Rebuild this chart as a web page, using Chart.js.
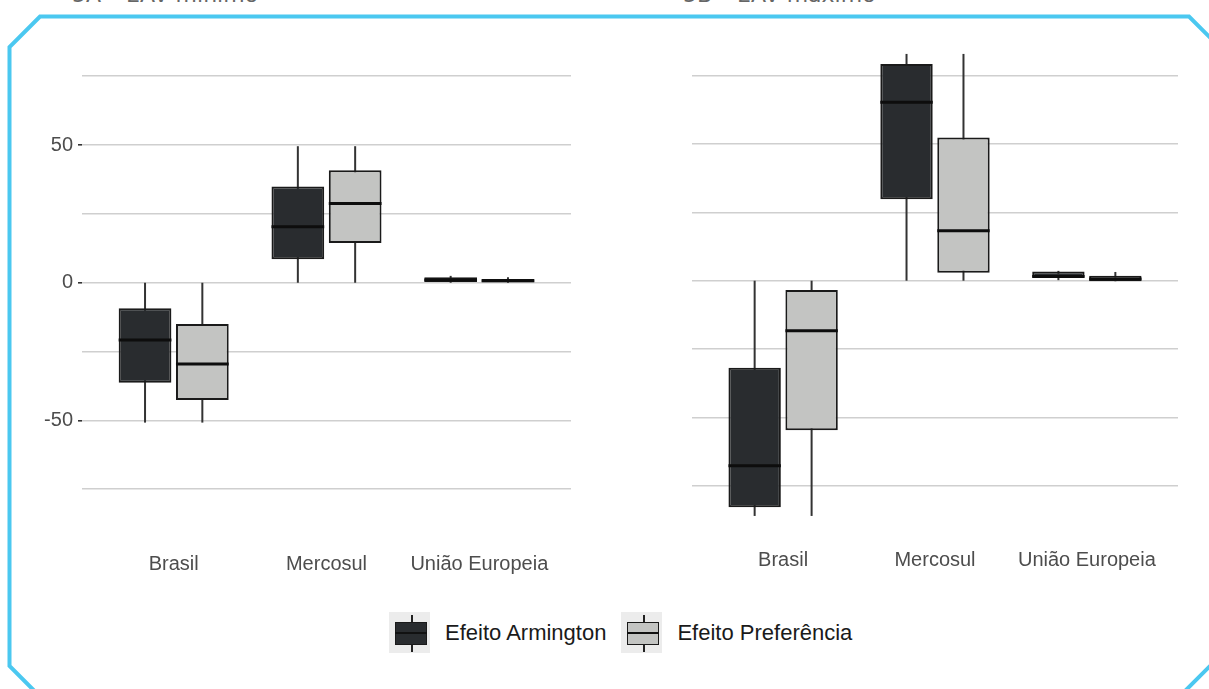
<!DOCTYPE html>
<html>
<head>
<meta charset="utf-8">
<script src="https://cdn.jsdelivr.net/npm/chart.js@4.4.0/dist/chart.umd.min.js"></script>
<style>
  html, body { margin: 0; padding: 0; background: #fff; }
  body { width: 1209px; height: 689px; position: relative; overflow: hidden; font-family: "Liberation Sans", Arial, sans-serif; }
  #leftWrap { position: absolute; left: 0; top: 0; width: 600px; height: 600px; }
  #rightWrap { position: absolute; left: 600px; top: 0; width: 609px; height: 600px; }
  .caption { position: absolute; top: -16px; font-size: 22px; line-height: 22px; font-family: "DejaVu Sans", sans-serif; color: #666; white-space: nowrap; }
  #frame { position: absolute; left: 0; top: 0; pointer-events: none; }
  #legend { position: absolute; left: 389px; top: 612px; height: 41px; display: flex; align-items: center; }
  .key { position: relative; width: 41px; height: 41px; background: #ececec; flex: none; }
  .key .wh { position: absolute; left: 22px; top: 3px; width: 1.8px; height: 37px; background: #222; }
  .key .bx { position: absolute; left: 6px; top: 10px; width: 32px; height: 23px; box-sizing: border-box; border: 1.8px solid #1a1a1a; }
  .key .md { position: absolute; left: 6px; top: 20px; width: 32px; height: 2.4px; background: #111; }
  .lbl { font-size: 22px; color: #1a1a1a; margin: 0 15px 0 15px; white-space: nowrap; }
</style>
</head>
<body>
<div class="caption" style="left:72px">5A – EAV mínimo</div>
<div class="caption" style="left:683px">5B – EAV máximo</div>

<div id="leftWrap"><canvas id="chartMin"></canvas></div>
<div id="rightWrap"><canvas id="chartMax"></canvas></div>

<div id="legend">
  <div class="key"><div class="wh"></div><div class="bx" style="background:#292c2f"></div><div class="md"></div></div>
  <span class="lbl">Efeito Armington</span>
  <div class="key"><div class="wh"></div><div class="bx" style="background:#c3c4c2"></div><div class="md"></div></div>
  <span class="lbl">Efeito Preferência</span>
</div>

<svg id="frame" width="1209" height="689">
  <polygon points="40,16.5 1189,16.5 1222,49.5 1222,654 1180,696 39.5,696 9.5,666 9.5,47"
           fill="none" stroke="#4bc8f0" stroke-width="4"/>
</svg>

<script>
// categories and series
const categories = ['Brasil', 'Mercosul', 'União Europeia'];
const seriesNames = ['Efeito Armington', 'Efeito Preferência'];
const seriesColors = ['#292c2f', '#c3c4c2'];

// gridlines and labelled ticks
const gridValues = [-75, -50, -25, 0, 25, 50, 75];
const labeledTicks = [-50, 0, 50];

// 5A – EAV mínimo: [mín, Q1, mediana, Q3, máx] per category
const minArmington = [[-50.8, -36.3, -20.8, -9.3, 0], [0, 8.5, 20.3, 35.0, 49.6], [0, 0.3, 1.0, 2.0, 2.5]];
const minPreferencia = [[-50.8, -42.6, -29.5, -15.0, 0], [0, 14.4, 28.8, 40.9, 49.6], [0, 0.2, 0.7, 1.4, 2.0]];

// 5B – EAV máximo: [mín, Q1, mediana, Q3, máx] per category
const maxArmington = [[-86.1, -82.9, -67.7, -31.9, 0], [0, 29.8, 65.3, 79.3, 83.0], [0.2, 1.2, 1.5, 3.4, 3.6]];
const maxPreferencia = [[-86.1, -54.7, -18.3, -3.4, 0], [0, 2.9, 18.3, 52.4, 83.0], [-0.2, -0.2, 0.6, 1.8, 3.2]];

// whiskers behind the boxes, medians on top
const boxPlugin = {
    id: 'boxWhiskers',
    beforeDatasetsDraw(chart) {
        const ctx = chart.ctx;
        const y = chart.scales.y;
        chart.data.datasets.forEach((ds, i) => {
            chart.getDatasetMeta(i).data.forEach((bar, j) => {
                const s = ds.stats[j];
                ctx.save();
                ctx.strokeStyle = '#333';
                ctx.lineWidth = 2;
                ctx.beginPath();
                ctx.moveTo(bar.x, y.getPixelForValue(s[0]));
                ctx.lineTo(bar.x, y.getPixelForValue(s[4]));
                ctx.stroke();
                ctx.restore();
            });
        });
    },
    afterDatasetsDraw(chart) {
        const ctx = chart.ctx;
        const y = chart.scales.y;
        chart.data.datasets.forEach((ds, i) => {
            chart.getDatasetMeta(i).data.forEach((bar, j) => {
                const s = ds.stats[j];
                const py = y.getPixelForValue(s[2]);
                ctx.save();
                ctx.strokeStyle = '#0d0d0d';
                ctx.lineWidth = 3;
                ctx.beginPath();
                ctx.moveTo(bar.x - bar.width / 2, py);
                ctx.lineTo(bar.x + bar.width / 2, py);
                ctx.stroke();
                ctx.restore();
            });
        });
    }
};

function makeDataset(name, color, stats) {
    return {
        label: name,
        stats: stats,
        data: stats.map((s, j) => ({ x: j + 1, y: [s[1], s[3]] })),
        backgroundColor: color,
        borderColor: '#1a1a1a',
        borderWidth: 2,
        borderSkipped: false,
        categoryPercentage: 0.75,
        barPercentage: 0.92
    };
}

function makeChart(id, armington, preferencia, opts) {
    const ctx = document.getElementById(id).getContext('2d');
    return new Chart(ctx, {
        type: 'bar',
        data: {
            datasets: [
                makeDataset(seriesNames[0], seriesColors[0], armington),
                makeDataset(seriesNames[1], seriesColors[1], preferencia)
            ]
        },
        options: {
            responsive: true,
            maintainAspectRatio: false,
            animation: false,
            layout: { padding: { top: opts.top, right: opts.right, left: 0, bottom: 0 } },
            plugins: { legend: { display: false }, tooltip: { enabled: false } },
            scales: {
                x: {
                    type: 'linear',
                    min: 0.4,
                    max: 3.6,
                    offset: false,
                    grid: { display: false, drawTicks: false, offset: false },
                    border: { display: false },
                    afterBuildTicks: s => { s.ticks = categories.map((c, i) => ({ value: i + 1 })); },
                    afterFit: s => { s.height = opts.xHeight; },
                    ticks: {
                        autoSkip: false,
                        maxRotation: 0,
                        padding: opts.xPad,
                        color: '#4d4d4d',
                        font: { family: 'Liberation Sans', size: 20 },
                        callback: v => categories[v - 1] ?? ''
                    }
                },
                y: {
                    min: opts.yMin,
                    max: opts.yMax,
                    afterBuildTicks: s => { s.ticks = gridValues.map(v => ({ value: v })); },
                    afterFit: s => { s.width = opts.yWidth; },
                    border: { display: false },
                    grid: {
                        color: '#cfcfcf',
                        lineWidth: 1.6,
                        drawTicks: opts.showY,
                        tickLength: 4,
                        tickWidth: 1.6,
                        tickColor: c => (opts.showY && labeledTicks.includes(c.tick.value)) ? '#333' : 'rgba(0,0,0,0)'
                    },
                    ticks: {
                        display: opts.showY,
                        padding: 5,
                        color: '#4d4d4d',
                        font: { family: 'Liberation Sans', size: 20 },
                        callback: v => labeledTicks.includes(v) ? String(v) : ''
                    }
                }
            }
        },
        plugins: [boxPlugin]
    });
}

makeChart('chartMin', minArmington, minPreferencia, {
    top: 57, right: 29, yWidth: 82, xHeight: 91.5, xPad: 44, yMin: -82, yMax: 82, showY: true
});
makeChart('chartMax', maxArmington, maxPreferencia, {
    top: 34.8, right: 31, yWidth: 92, xHeight: 73.4, xPad: 22, yMin: -90, yMax: 90, showY: false
});
</script>
</body>
</html>
